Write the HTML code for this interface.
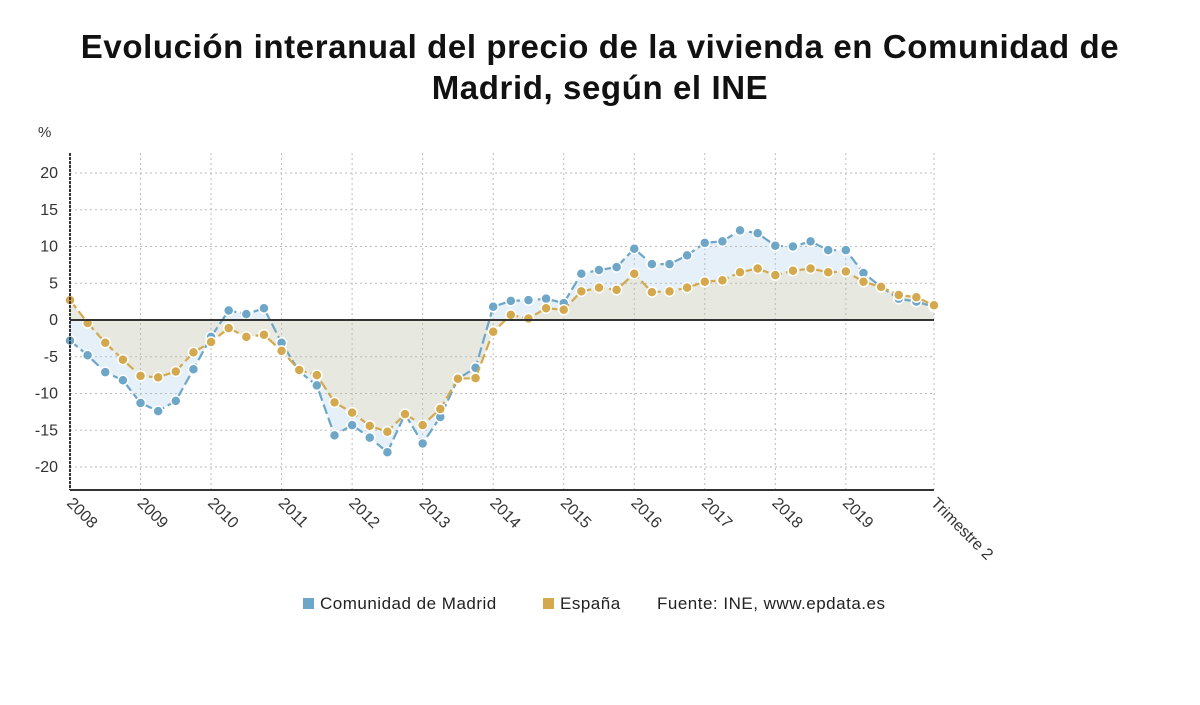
<!DOCTYPE html>
<html><head><meta charset="utf-8">
<style>
html,body{margin:0;padding:0;background:#fff;width:1200px;height:705px;overflow:hidden;font-family:"Liberation Sans",sans-serif}
</style></head>
<body>
<svg id="c" width="1200" height="705" xmlns="http://www.w3.org/2000/svg">
<text x="600" y="58" text-anchor="middle" font-size="33" font-weight="bold" letter-spacing="0.6" fill="#111">Evolución interanual del precio de la vivienda en Comunidad de</text>
<text x="600" y="99" text-anchor="middle" font-size="33" font-weight="bold" letter-spacing="0.6" fill="#111">Madrid, según el INE</text>
<text x="38" y="137" font-size="15" fill="#333">%</text>
<g id="areas"></g>
<g id="grid"></g>
<g id="series"></g>
<g id="axes"></g>
<g font-size="17" letter-spacing="0.5" fill="#222">
<rect x="303" y="598" width="11" height="11" fill="#6ea6c8"/>
<text x="320" y="609">Comunidad de Madrid</text>
<rect x="543" y="598" width="11" height="11" fill="#d4a94e"/>
<text x="560" y="609">España</text>
<text x="657" y="609">Fuente: INE, www.epdata.es</text>
</g>
</svg>
<script>
const yearLabels=["2008","2009","2010","2011","2012","2013","2014","2015","2016","2017","2018","2019"];
const endLabel="Trimestre 2";
const yTicks=[20,15,10,5,0,-5,-10,-15,-20];
const madrid=[-2.8,-4.8,-7.1,-8.2,-11.3,-12.4,-11.0,-6.7,-2.3,1.3,0.8,1.6,-3.1,-7.0,-8.9,-15.7,-14.3,-16.0,-18.0,-12.8,-16.8,-13.2,-8.0,-6.5,1.8,2.6,2.7,2.9,2.3,6.3,6.8,7.2,9.7,7.6,7.6,8.8,10.5,10.7,12.2,11.8,10.1,10.0,10.7,9.5,9.5,6.4,4.5,2.9,2.5,1.8];
const espana=[2.7,-0.4,-3.1,-5.4,-7.6,-7.8,-7.0,-4.4,-3.0,-1.1,-2.3,-2.0,-4.2,-6.8,-7.5,-11.2,-12.6,-14.4,-15.2,-12.8,-14.3,-12.1,-8.0,-7.9,-1.6,0.7,0.2,1.6,1.4,3.9,4.4,4.1,6.3,3.8,3.9,4.4,5.2,5.4,6.5,7.0,6.1,6.7,7.0,6.5,6.6,5.2,4.5,3.4,3.1,2.0];

const NS="http://www.w3.org/2000/svg";
const X0=70,X1=934,Y0=320,PPU=7.35,TOP=153,BOT=490;
const n=madrid.length;
const x=i=>X0+(X1-X0)*i/(n-1);
const y=v=>Y0-v*PPU;
function mk(tag,parent,attrs){const e=document.createElementNS(NS,tag);for(const k in attrs)e.setAttribute(k,attrs[k]);parent.appendChild(e);return e;}
const grid=document.getElementById('grid'),areas=document.getElementById('areas'),ser=document.getElementById('series'),axes=document.getElementById('axes');

yTicks.forEach(t=>{
  if(t!==0){const l=mk('line',grid,{x1:X0,x2:X1,y1:y(t),y2:y(t),stroke:'#bbb','stroke-dasharray':'2,3'});
  
  }
  const tx=mk('text',axes,{x:58,y:y(t)+5,'text-anchor':'end','font-size':16,fill:'#333'});
  tx.textContent=t;
  
  
});
const xt=[];
yearLabels.forEach((lab,k)=>xt.push([x(k*4),lab]));
xt.push([x(n-1),endLabel]);
xt.forEach(([px,lab])=>{
  const l=mk('line',grid,{x1:px,x2:px,y1:TOP,y2:BOT,stroke:'#bbb','stroke-dasharray':'2,3'});
  
  
  const tx=mk('text',axes,{x:px-4,y:BOT+14,'font-size':16,fill:'#333',transform:`rotate(45 ${px-4} ${BOT+14})`});
  tx.textContent=lab;
  
  
});

function areaPath(arr){let d=`M${x(0)},${Y0}`;arr.forEach((v,i)=>d+=`L${x(i)},${y(v)}`);return d+`L${x(n-1)},${Y0}Z`;}
const a2=mk('path',areas,{d:areaPath(madrid),fill:'#e6f0f8'});


const a1=mk('path',areas,{d:areaPath(espana),fill:'#e6e6dc','fill-opacity':0.85});



const zl=mk('line',axes,{x1:X0,x2:X1,y1:Y0,y2:Y0,stroke:'#333','stroke-width':2});


const ya=mk('line',axes,{x1:X0,x2:X0,y1:TOP,y2:BOT,stroke:'#333','stroke-width':2,'stroke-dasharray':'3,1'});


const xa=mk('line',axes,{x1:X0,x2:X1,y1:BOT,y2:BOT,stroke:'#333','stroke-width':2});



function series(arr,color,name){
  const g=mk('g',ser,{});
  
  
  const ln=mk('polyline',g,{points:arr.map((v,i)=>x(i)+','+y(v)).join(' '),fill:'none',stroke:color,'stroke-width':2.2,'stroke-dasharray':'10,4'});
  
  
  arr.forEach((v,i)=>{
    const c=mk('circle',g,{cx:x(i),cy:y(v),r:5,fill:color,stroke:'#fff','stroke-width':1.5});
    
    
  });
}
series(madrid,'#6ea6c8','madrid');
series(espana,'#d4a94e','espana');
</script>
</body></html>
